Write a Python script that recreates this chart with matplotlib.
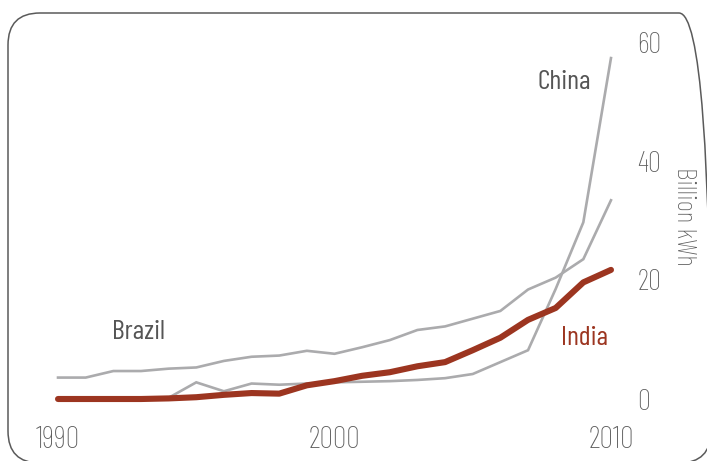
import matplotlib
matplotlib.use("Agg")
import matplotlib.pyplot as plt
from matplotlib.patches import FancyBboxPatch

# Annual generation, billion kWh
years = list(range(1990, 2011))
india = [0, 0, 0, 0, 0.1, 0.3, 0.7, 1.0, 0.9, 2.3, 3.0, 3.9, 4.5, 5.5, 6.2,
         8.2, 10.3, 13.3, 15.3, 19.6, 21.7]
brazil = [3.6, 3.6, 4.7, 4.7, 5.1, 5.3, 6.4, 7.1, 7.3, 8.1, 7.6, 8.7, 9.9,
          11.6, 12.2, 13.5, 14.8, 18.4, 20.4, 23.5, 33.4]
china = [0, 0, 0, 0, 0.2, 2.8, 1.3, 2.6, 2.4, 2.6, 2.8, 2.9, 3.0, 3.2, 3.5,
         4.2, 6.2, 8.2, 18.5, 29.7, 57.3]

x_ticks = [1990, 2000, 2010]
y_ticks = [0, 20, 40, 60]

FONT = ["Barlow Condensed", "DejaVu Sans"]
GREY_LINE = "#ababad"
RED = "#9c3520"
TICK_GREY = "#5c5c5c"
LABEL_GREY = "#555555"

W, H = 707, 461
fig = plt.figure(figsize=(W / 100, H / 100), dpi=100)

# axes placed in pixel terms
x_lo, x_hi = 1989.5, 2010.5
y_lo, y_hi = -2, 62
px_left, px_right = 44.2, 624.8
px_top, px_bottom = 30.1, 410.9
ax = fig.add_axes([px_left / W, (H - px_bottom) / H,
                   (px_right - px_left) / W, (px_bottom - px_top) / H])
ax.set_xlim(x_lo, x_hi)
ax.set_ylim(y_lo, y_hi)

ax.plot(years, brazil, color=GREY_LINE, lw=1.9, solid_joinstyle="miter", zorder=2)
ax.plot(years, china, color=GREY_LINE, lw=1.9, solid_joinstyle="miter", zorder=2)
ax.plot(years, india, color=RED, lw=4.4, solid_capstyle="round", zorder=3)

for s in ax.spines.values():
    s.set_visible(False)
ax.yaxis.tick_right()
ax.set_xticks(x_ticks)
ax.set_xticklabels([str(t) for t in x_ticks])
ax.set_yticks(y_ticks)
ax.set_yticklabels([str(t) for t in y_ticks])
ax.tick_params(axis="both", length=0, colors=TICK_GREY)
ax.tick_params(axis="x", pad=11, labelsize=22)
ax.tick_params(axis="y", pad=9, labelsize=21)
for lab in ax.get_xticklabels() + ax.get_yticklabels():
    lab.set_family(FONT)
    lab.set_fontweight("light")

# axis title on the right, reading downwards
fig.text(684 / W, 1 - 216 / H, "Billion kWh", rotation=270, color=TICK_GREY,
         fontsize=20, family=FONT, fontweight="light", ha="center", va="center")

ax.text(2008.3, 53.3, "China", color=LABEL_GREY, fontsize=20, family=FONT,
        ha="center", va="center")
ax.text(1992.9, 11.2, "Brazil", color=LABEL_GREY, fontsize=20, family=FONT,
        ha="center", va="center")
ax.text(2009.05, 10.3, "India", color=RED, fontsize=20, family=FONT,
        ha="center", va="center")

# rounded frame around the panel
frame = FancyBboxPatch((8 / 100, -2 / 100), 7.03, 4.50,
                       boxstyle="round,pad=0,rounding_size=0.32",
                       transform=fig.dpi_scale_trans, fill=False,
                       edgecolor="#5a5a5a", lw=1.1)
fig.add_artist(frame)

fig.savefig("out.png", dpi=100)
